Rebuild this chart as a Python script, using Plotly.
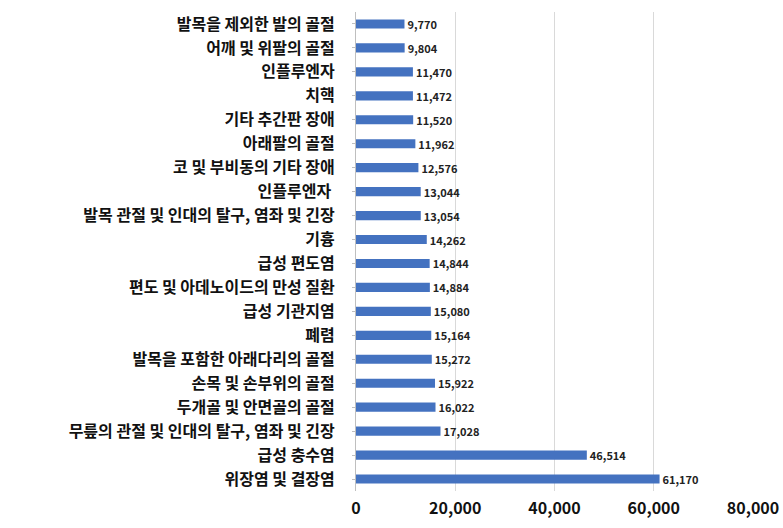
import plotly.graph_objects as go

categories = [
    "발목을 제외한 발의 골절",
    "어깨 및 위팔의 골절",
    "인플루엔자",
    "치핵",
    "기타 추간판 장애",
    "아래팔의 골절",
    "코 및 부비동의 기타 장애",
    "인플루엔자 ",
    "발목 관절 및 인대의 탈구, 염좌 및 긴장",
    "기흉",
    "급성 편도염",
    "편도 및 아데노이드의 만성 질환",
    "급성 기관지염",
    "폐렴",
    "발목을 포함한 아래다리의 골절",
    "손목 및 손부위의 골절",
    "두개골 및 안면골의 골절",
    "무릎의 관절 및 인대의 탈구, 염좌 및 긴장",
    "급성 충수염",
    "위장염 및 결장염",
]
values = [9770, 9804, 11470, 11472, 11520, 11962, 12576, 13044, 13054, 14262,
          14844, 14884, 15080, 15164, 15272, 15922, 16022, 17028, 46514, 61170]

x_ticks = [0, 20000, 40000, 60000, 80000]
x_tick_labels = ["0", "20,000", "40,000", "60,000", "80,000"]

cats = categories[::-1]
vals = values[::-1]

fig = go.Figure(go.Bar(
    x=vals, y=cats, orientation="h",
    marker=dict(color="#4472C0", line=dict(width=0)),
    width=0.38,
    text=[f"{v:,}" for v in vals],
    textposition="outside",
    constraintext="none",
    textfont=dict(family="Noto Sans CJK KR", size=11, color="#222222", weight="bold"),
    cliponaxis=False,
))

fig.update_layout(
    width=783, height=528,
    margin=dict(l=356, r=30, t=12, b=37),
    paper_bgcolor="white", plot_bgcolor="white",
    showlegend=False,
    bargap=0.6,
)
fig.update_xaxes(
    range=[0, 80000], tickvals=x_ticks, ticktext=x_tick_labels,
    showgrid=True, gridcolor="#D9D9D9", gridwidth=1,
    zeroline=False, showline=False,
    tickfont=dict(family="Noto Sans CJK KR", size=16, color="#111111", weight="bold"),
    ticklabelstandoff=6,
    automargin=False,
)
fig.update_yaxes(
    categoryorder="array", categoryarray=cats,
    showline=True, linecolor="#BFBFBF", linewidth=1,
    ticks="outside", ticklen=3, tickcolor="#BFBFBF",
    tickfont=dict(family="Noto Sans CJK KR", size=16, color="#111111", weight="bold"),
    ticklabelstandoff=14,
    automargin=False,
)

fig.write_html("out.html")
